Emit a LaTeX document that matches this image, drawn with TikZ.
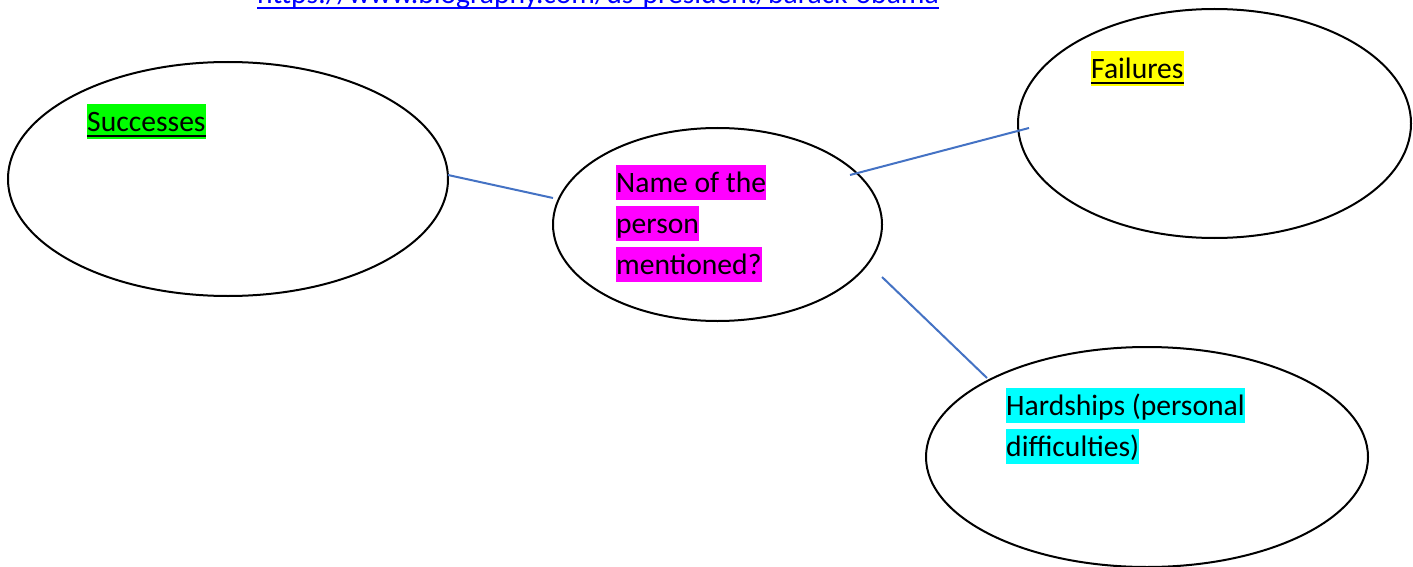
\documentclass[tikz,border=0pt]{standalone}
\usepackage{fontspec}
\setmainfont{Carlito}
\usetikzlibrary{shapes.geometric}
\definecolor{hlgreen}{RGB}{0,255,0}
\definecolor{hlyellow}{RGB}{255,255,0}
\definecolor{hlmagenta}{RGB}{255,0,255}
\definecolor{hlcyan}{RGB}{0,255,255}
\definecolor{linkblue}{RGB}{0,0,255}
\definecolor{connblue}{RGB}{68,114,196}
\newcommand{\bodyfont}{\fontsize{29.6pt}{41pt}\selectfont}
\tikzset{
  bubble/.style={draw=black, line width=2pt, ellipse, inner sep=0pt},
  hl/.style={inner sep=0pt, text height=27.6pt, text depth=7.8pt, anchor=base west, font=\bodyfont},
  conn/.style={draw=connblue, line width=2pt},
  uline/.style={line width=2.3pt}
}
\begin{document}
\begin{tikzpicture}[x=1pt, y=-1pt]
\useasboundingbox (0,0) rectangle (1413,567);
\fill[white] (0,0) rectangle (1413,567);
% URL (cut at top, as in the reference)
\node[hl, text=linkblue] (url) at (257,3.8) {https://www.biography.com/us-president/barack-obama};
\draw[uline, linkblue, line width=2pt] ([yshift=-4pt]url.base west) -- ([yshift=-4pt]url.base east);
% bubbles
\node[bubble, minimum width=440pt, minimum height=234pt] (succ) at (228,179) {};
\node[bubble, minimum width=329pt, minimum height=193pt] (name) at (717.5,224.5) {};
\node[bubble, minimum width=393pt, minimum height=229pt] (fail) at (1214.5,123.5) {};
\node[bubble, minimum width=442pt, minimum height=220pt] (hard) at (1147,457) {};
% connector ends
\coordinate (s1) at (448,175);
\coordinate (n1) at (553,198);
\coordinate (n2) at (850,175);
\coordinate (f1) at (1029,128);
\coordinate (n3) at (882,277);
\coordinate (h1) at (987,378);
\draw[conn] (s1) -- (n1);
\draw[conn] (n2) -- (f1);
\draw[conn] (n3) -- (h1);
% labels
\node[hl, fill=hlgreen] (succt) at (87,131.6) {Successes};
\draw[uline] ([yshift=-4.4pt]succt.base west) -- ([yshift=-4.4pt]succt.base east);
\node[hl, fill=hlyellow] (failt) at (1091,78.6) {Failures};
\draw[uline] ([yshift=-4.4pt]failt.base west) -- ([yshift=-4.4pt]failt.base east);
\node[hl, fill=hlmagenta] (name1) at (616,192.6) {Name of the};
\node[hl, fill=hlmagenta] (name2) at (616,233.6) {person};
\node[hl, fill=hlmagenta] (name3) at (616,274.6) {mentioned?};
\node[hl, fill=hlcyan] (hard1) at (1006,415.6) {Hardships (personal};
\node[hl, fill=hlcyan] (hard2) at (1006,456.6) {difficulties)};
\end{tikzpicture}
\end{document}
